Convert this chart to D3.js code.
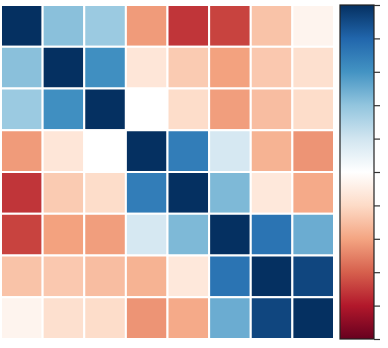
<!DOCTYPE html>
<html>
<head>
<meta charset="utf-8">
<script src="https://cdn.jsdelivr.net/npm/d3@7"></script>
<style>
  html, body { margin: 0; padding: 0; background: #fff; }
  svg { display: block; }
</style>
</head>
<body>
<svg id="chart" width="388" height="348"></svg>
<script>
// Variables (row/column categories)
const variables = ["V1", "V2", "V3", "V4", "V5", "V6", "V7", "V8"];
// Correlation matrix values (rows)
const row1 = [ 1.00,  0.42,  0.37, -0.43, -0.72, -0.68, -0.29, -0.06];
const row2 = [ 0.42,  1.00,  0.62, -0.14, -0.26, -0.41, -0.27, -0.17];
const row3 = [ 0.37,  0.62,  1.00,  0.00, -0.19, -0.42, -0.31, -0.19];
const row4 = [-0.43, -0.14,  0.00,  1.00,  0.70,  0.18, -0.35, -0.45];
const row5 = [-0.72, -0.26, -0.19,  0.70,  1.00,  0.45, -0.13, -0.38];
const row6 = [-0.68, -0.41, -0.42,  0.18,  0.45,  1.00,  0.74,  0.50];
const row7 = [-0.29, -0.27, -0.31, -0.35, -0.13,  0.74,  1.00,  0.92];
const row8 = [-0.06, -0.17, -0.19, -0.45, -0.38,  0.50,  0.92,  1.00];
const matrix = [row1, row2, row3, row4, row5, row6, row7, row8];
// Colour bar ticks
const colorTicks = [-1, -0.8, -0.6, -0.4, -0.2, 0, 0.2, 0.4, 0.6, 0.8, 1];
// Diverging palette stops (red -> white -> blue)
const paletteStops = [-1, -0.8, -0.6, -0.4, -0.2, 0, 0.2, 0.4, 0.6, 0.8, 1];
const paletteColors = ["#67001F", "#B2182B", "#D6604D", "#F4A582", "#FDDBC7", "#FFFFFF",
                       "#D1E5F0", "#92C5DE", "#4393C3", "#2166AC", "#053061"];

const svg = d3.select("#chart");

const x = d3.scaleBand().domain(variables).range([1, 334]).padding(0);
const y = d3.scaleBand().domain(variables).range([5, 339]).padding(0);
const color = d3.scaleLinear().domain(paletteStops).range(paletteColors).interpolate(d3.interpolateRgb).clamp(true);

const cells = [];
matrix.forEach((row, i) => row.forEach((v, j) => cells.push({r: variables[i], c: variables[j], v})));

svg.append("g").selectAll("rect").data(cells).join("rect")
  .attr("x", d => x(d.c))
  .attr("y", d => y(d.r))
  .attr("width", x.bandwidth())
  .attr("height", y.bandwidth())
  .attr("fill", d => color(d.v))
  .attr("stroke", "#fff")
  .attr("stroke-width", 2);

// Colour bar
const cbX = 340, cbW = 34;
const cbScale = d3.scaleLinear().domain([-1, 1]).range([339, 5]);
const defs = svg.append("defs");
const grad = defs.append("linearGradient").attr("id", "cbgrad")
  .attr("x1", "0").attr("y1", "1").attr("x2", "0").attr("y2", "0");
paletteStops.forEach((s, i) => {
  grad.append("stop").attr("offset", (s + 1) / 2).attr("stop-color", paletteColors[i]);
});
svg.append("rect")
  .attr("x", cbX).attr("y", cbScale(1))
  .attr("width", cbW).attr("height", cbScale(-1) - cbScale(1))
  .attr("fill", "url(#cbgrad)")
  .attr("stroke", "#222").attr("stroke-width", 1.2);

const axis = d3.axisRight(cbScale).tickValues(colorTicks).tickSize(6).tickFormat(() => "");
const ag = svg.append("g").attr("transform", `translate(${cbX + cbW},0)`).call(axis);
ag.select(".domain").remove();
ag.selectAll(".tick line").attr("stroke", "#333").attr("stroke-width", 1.2);
</script>
</body>
</html>
